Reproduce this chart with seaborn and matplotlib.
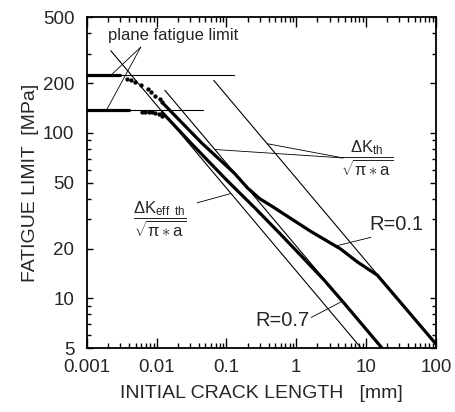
"""Fatigue limit vs initial crack length, R=0.1 and R=0.7."""

import matplotlib
matplotlib.use("Agg")
import matplotlib.pyplot as plt
import matplotlib.ticker as mticker
import seaborn as sns

# plane fatigue limits (thin lines) and their thick plateau parts
upper_limit_x = [0.001, 0.13]
upper_limit_y = [223, 223]
lower_limit_x = [0.001, 0.046]
lower_limit_y = [137, 137]
upper_plateau_x = [0.001, 0.003]
upper_plateau_y = [223, 223]
lower_plateau_x = [0.001, 0.004]
lower_plateau_y = [137, 137]

# threshold lines dK / sqrt(pi*a)
dk_eff_x = [0.0022, 8.5]
dk_eff_y = [314, 5.0]
dk_th07_x = [0.0131, 17.1]
dk_th07_y = [181, 5.0]
dk_th01_x = [0.0656, 100]
dk_th01_y = [208, 5.3]

# dotted transition parts
dots01_x = [0.0038, 0.00425, 0.00484, 0.0059, 0.0074, 0.0082, 0.0093, 0.011, 0.0121]
dots01_y = [212, 209, 203, 195, 184, 176, 167, 160, 153]
dots07_x = [0.0062, 0.0068, 0.0078, 0.0086, 0.0095, 0.0108, 0.012]
dots07_y = [134, 134, 134, 133.5, 131.5, 130, 127]

# thick curves
r01_x = [0.0125, 0.044, 0.13, 0.2, 0.3, 0.45, 0.66, 1.61, 4.3, 7.5, 14.5, 100]
r01_y = [150, 87, 57, 46.5, 40.0, 36.0, 32.4, 25.4, 19.9, 16.6, 13.8, 5.3]
r07_x = [0.012, 0.03, 0.1, 0.26, 0.59, 1.2, 2.5, 5.0, 16.6]
r07_y = [133, 88, 52, 34.9, 24.5, 17.9, 12.9, 9.2, 5.05]

x_ticks = [0.001, 0.01, 0.1, 1, 10, 100]
x_labels = ["0.001", "0.01", "0.1", "1", "10", "100"]
y_ticks = [5, 10, 20, 50, 100, 200, 500]
y_labels = ["5", "10", "20", "50", "100", "200", "500"]


def main() -> None:
    sns.set_theme(style="ticks")
    plt.rcParams["font.family"] = ["Liberation Sans", "DejaVu Sans"]
    plt.rcParams["mathtext.fontset"] = "custom"
    plt.rcParams["mathtext.rm"] = "Liberation Sans"
    plt.rcParams["mathtext.it"] = "Liberation Sans"

    fig = plt.figure(figsize=(4.55, 4.12), dpi=100)
    ax = fig.add_axes([0.191, 0.155, 0.767, 0.803])

    thin = dict(color="black", linewidth=0.8, ax=ax)
    thick = dict(color="black", linewidth=2.3, ax=ax)

    sns.lineplot(x=upper_limit_x, y=upper_limit_y, **thin)
    sns.lineplot(x=lower_limit_x, y=lower_limit_y, **thin)
    sns.lineplot(x=dk_eff_x, y=dk_eff_y, **thin)
    sns.lineplot(x=dk_th07_x, y=dk_th07_y, **thin)
    sns.lineplot(x=dk_th01_x, y=dk_th01_y, **thin)

    sns.lineplot(x=upper_plateau_x, y=upper_plateau_y, **thick)
    sns.lineplot(x=lower_plateau_x, y=lower_plateau_y, **thick)
    sns.lineplot(x=r01_x, y=r01_y, sort=False, **thick)
    sns.lineplot(x=r07_x, y=r07_y, sort=False, **thick)

    sns.scatterplot(x=dots01_x, y=dots01_y, color="black", s=8, edgecolor=None, ax=ax)
    sns.scatterplot(x=dots07_x, y=dots07_y, color="black", s=8, edgecolor=None, ax=ax)

    ax.set_xscale("log")
    ax.set_yscale("log")
    ax.set_xlim(0.001, 100)
    ax.set_ylim(5, 500)

    ax.xaxis.set_major_locator(mticker.FixedLocator(x_ticks))
    ax.xaxis.set_major_formatter(mticker.FixedFormatter(x_labels))
    ax.xaxis.set_minor_locator(mticker.LogLocator(base=10, subs=range(2, 10)))
    ax.xaxis.set_minor_formatter(mticker.NullFormatter())
    ax.yaxis.set_major_locator(mticker.FixedLocator(y_ticks))
    ax.yaxis.set_major_formatter(mticker.FixedFormatter(y_labels))
    ax.yaxis.set_minor_locator(mticker.FixedLocator([6, 7, 8, 9, 30, 40, 60, 70, 80, 90, 300, 400]))
    ax.yaxis.set_minor_formatter(mticker.NullFormatter())

    ax.tick_params(which="both", direction="in", top=True, right=True, width=1.0, color="black")
    ax.tick_params(axis="x", which="major", length=7, pad=8, labelsize=13.5)
    ax.tick_params(axis="x", which="minor", length=3.5)
    ax.tick_params(axis="y", which="major", length=4.5, pad=9, labelsize=13.5)
    ax.tick_params(axis="y", which="minor", length=3)
    for spine in ax.spines.values():
        spine.set_linewidth(1.3)
        spine.set_color("black")

    ax.set_xlabel("INITIAL CRACK LENGTH   [mm]", fontsize=14, labelpad=6)
    ax.set_ylabel("FATIGUE LIMIT  [MPa]", fontsize=14, labelpad=3)

    # annotations
    pointer = dict(arrowstyle="-", color="black", linewidth=0.6, shrinkA=0, shrinkB=0)
    ax.text(0.06, 0.946, "plane fatigue limit", transform=ax.transAxes,
            fontsize=12, va="center", ha="left")
    ax.annotate("", xy=(0.0022, 223), xytext=(0.0059, 330), arrowprops=pointer)
    ax.annotate("", xy=(0.0019, 137), xytext=(0.0059, 330), arrowprops=pointer)

    ax.text(0.803, 0.574, r"$\dfrac{\Delta\mathrm{K_{th}}}{\sqrt{\pi \ast \mathrm{a}}}$",
            transform=ax.transAxes, fontsize=12, ha="center", va="center")
    ax.annotate("", xy=(0.387, 86), xytext=(4.68, 70.6), arrowprops=pointer)
    ax.annotate("", xy=(0.068, 79.4), xytext=(4.68, 70.6), arrowprops=pointer)

    ax.text(0.21, 0.39, r"$\dfrac{\Delta\mathrm{K_{eff\ \ th}}}{\sqrt{\pi \ast \mathrm{a}}}$",
            transform=ax.transAxes, fontsize=12, ha="center", va="center")
    ax.annotate("", xy=(0.115, 43), xytext=(0.038, 37.8), arrowprops=pointer)

    ax.text(0.887, 0.375, "R=0.1", transform=ax.transAxes, fontsize=14.5,
            ha="center", va="center")
    ax.annotate("", xy=(3.65, 20.7), xytext=(11.8, 23.4), arrowprops=pointer)

    ax.text(0.561, 0.085, "R=0.7", transform=ax.transAxes, fontsize=14.5,
            ha="center", va="center")
    ax.annotate("", xy=(4.55, 9.6), xytext=(1.64, 7.67), arrowprops=pointer)

    fig.savefig("out.png", dpi=100)
    plt.close(fig)


if __name__ == "__main__":
    main()
